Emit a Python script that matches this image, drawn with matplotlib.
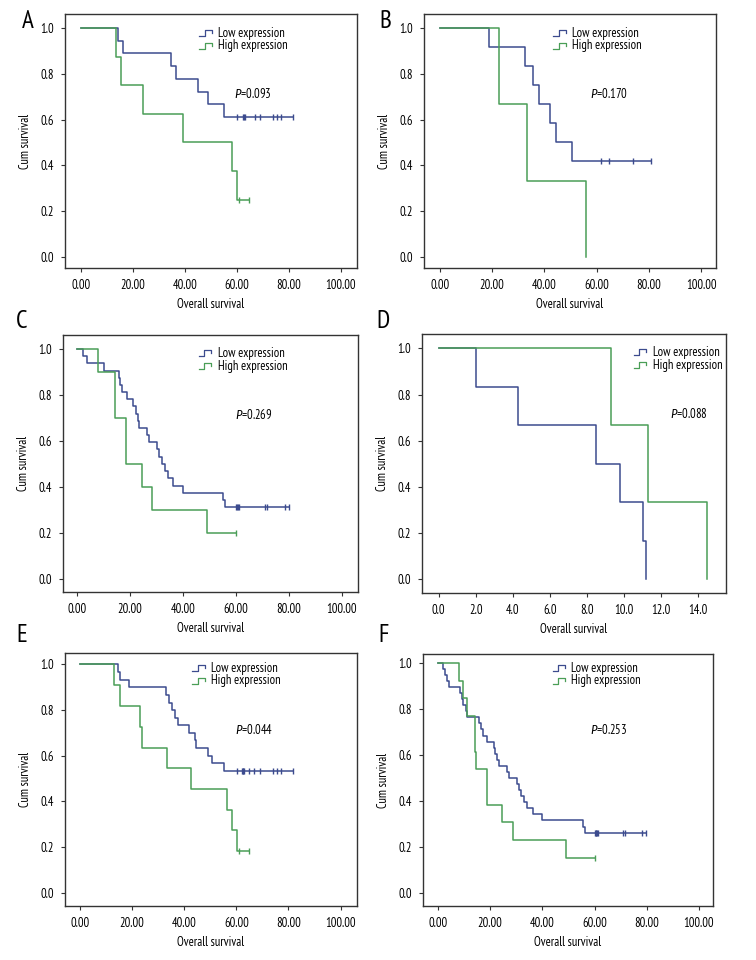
import matplotlib
matplotlib.use("Agg")
import matplotlib.pyplot as plt
import numpy as np

plt.rcParams["font.family"] = ["PT Sans Narrow", "DejaVu Sans"]
plt.rcParams["mathtext.fontset"] = "custom"
plt.rcParams["mathtext.it"] = "Fira Sans Condensed:italic"
plt.rcParams["mathtext.rm"] = "PT Sans Narrow"

BLUE = "#3c4b8e"
GREEN = "#4a9e57"

# ---- data (step times, survival after each step, censored times)
a_low_t = [14.4, 16.3, 34.5, 36.6, 45.1, 49.0, 55.1]
a_low_s = [0.944, 0.889, 0.833, 0.778, 0.722, 0.667, 0.611]
a_low_c = [60.0, 62.2, 62.8, 63.2, 67.0, 68.8, 73.7, 75.5, 76.9, 81.4]
a_high_t = [13.4, 15.4, 24.0, 39.4, 58.0, 60.0]
a_high_s = [0.875, 0.75, 0.625, 0.5, 0.375, 0.25]
a_high_c = [60.9, 64.7]

b_low_t = [18.9, 32.5, 35.7, 37.8, 42.0, 44.3, 50.7]
b_low_s = [0.917, 0.833, 0.75, 0.667, 0.583, 0.5, 0.417]
b_low_c = [61.8, 64.7, 73.9, 80.9]
b_high_t = [22.7, 33.4, 56.0]
b_high_s = [0.667, 0.333, 0.0]
b_high_c = []

c_low_t = [2.3, 3.8, 10.2, 15.9, 16.1, 16.8, 18.7, 21.2, 22.2, 22.8, 23.3,
           26.5, 27.3, 30.0, 31.0, 31.9, 33.1, 34.4, 36.4, 39.9, 55.0, 56.0]
c_low_s = [0.969, 0.938, 0.906, 0.875, 0.844, 0.813, 0.781, 0.75, 0.719, 0.688, 0.656,
           0.625, 0.594, 0.563, 0.531, 0.5, 0.469, 0.438, 0.406, 0.375, 0.344, 0.313]
c_low_c = [60.0, 60.4, 60.8, 61.2, 71.0, 71.6, 78.6, 80.2]
c_high_t = [8.0, 14.2, 14.4, 18.4, 18.6, 24.4, 28.4, 49.0]
c_high_s = [0.9, 0.8, 0.7, 0.6, 0.5, 0.4, 0.3, 0.2]
c_high_c = [60.0]

d_low_t = [2.0, 4.3, 8.5, 9.8, 11.0, 11.2]
d_low_s = [0.833, 0.667, 0.5, 0.333, 0.167, 0.0]
d_low_c = []
d_high_t = [9.3, 11.3, 14.5]
d_high_s = [0.667, 0.333, 0.0]
d_high_c = []

e_low_t = [14.7, 15.5, 19.0, 33.0, 34.1, 35.3, 36.4, 37.7, 42.0, 44.1, 44.6, 49.2, 50.6, 55.2]
e_low_s = [0.967, 0.933, 0.9, 0.867, 0.833, 0.8, 0.767, 0.733, 0.7, 0.667, 0.633, 0.6, 0.567, 0.533]
e_low_c = [60.1, 62.0, 62.4, 62.6, 63.0, 64.9, 66.8, 69.1, 73.9, 75.7, 77.3, 81.8]
e_high_t = [13.2, 15.3, 23.0, 23.9, 33.2, 42.5, 56.3, 58.3, 60.1]
e_high_s = [0.909, 0.818, 0.727, 0.636, 0.545, 0.455, 0.364, 0.273, 0.182]
e_high_c = [61.0, 64.7]

f_low_t = [1.8, 2.7, 3.3, 4.3, 8.4, 9.1, 9.7, 10.7, 11.2, 15.8, 16.5, 17.4, 18.7, 21.5,
           22.0, 22.7, 23.4, 26.6, 27.3, 30.1, 31.0, 31.8, 33.0, 34.0, 36.5, 39.7, 55.7, 56.2]
f_low_s = [0.974, 0.947, 0.921, 0.895, 0.868, 0.842, 0.816, 0.789, 0.763, 0.737, 0.711,
           0.684, 0.658, 0.632, 0.605, 0.579, 0.553, 0.526, 0.5, 0.474, 0.447, 0.421,
           0.395, 0.368, 0.342, 0.316, 0.289, 0.263]
f_low_c = [60.0, 60.4, 60.7, 61.0, 61.3, 70.9, 71.8, 78.3, 79.8]
f_high_t = [8.2, 9.4, 11.0, 14.1, 14.3, 14.5, 18.6, 18.8, 24.4, 28.6, 49.0]
f_high_s = [0.923, 0.846, 0.769, 0.692, 0.615, 0.538, 0.462, 0.385, 0.308, 0.231, 0.154]
f_high_c = [60.0]

p_values = ["0.093", "0.170", "0.269", "0.088", "0.044", "0.253"]
panel_letters = ["A", "B", "C", "D", "E", "F"]
x_ticks_main = [0, 20, 40, 60, 80, 100]
x_ticks_d = [0, 2, 4, 6, 8, 10, 12, 14]
y_ticks = [0.0, 0.2, 0.4, 0.6, 0.8, 1.0]

panels = [
    (a_low_t, a_low_s, a_low_c, a_high_t, a_high_s, a_high_c),
    (b_low_t, b_low_s, b_low_c, b_high_t, b_high_s, b_high_c),
    (c_low_t, c_low_s, c_low_c, c_high_t, c_high_s, c_high_c),
    (d_low_t, d_low_s, d_low_c, d_high_t, d_high_s, d_high_c),
    (e_low_t, e_low_s, e_low_c, e_high_t, e_high_s, e_high_c),
    (f_low_t, f_low_s, f_low_c, f_high_t, f_high_s, f_high_c),
]

# ---- layout in pixels (left, top, right, bottom) of the 756x960 canvas
W, H = 756, 960
boxes = [(65, 14, 357, 268), (424, 14, 716, 268),
         (63, 335, 358, 592), (422, 334, 726, 593),
         (65, 653, 357, 906), (423, 654, 713, 906)]
xlims = [(-6.15, 106.2), (-6.1, 105.7), (-5.4, 106.2), (-0.9, 15.5), (-5.75, 106.3), (-5.75, 105.4)]
ylims = [(-0.048, 1.061), (-0.048, 1.061), (-0.057, 1.061), (-0.059, 1.062), (-0.058, 1.05), (-0.055, 1.038)]
legend_pos = [(0.524, 0.925), (0.507, 0.925), (0.525, 0.929), (0.76, 0.929), (0.50, 0.94), (0.511, 0.943)]
p_pos = [(0.58, 0.685), (0.568, 0.685), (0.583, 0.689), (0.815, 0.691), (0.582, 0.696), (0.577, 0.698)]
letter_pos = [(28, 22), (385, 22), (22, 322), (383, 322), (22, 636), (384, 636)]

FS = 9


def draw_curve(ax, t, s, c, color):
    t = np.asarray(t)
    s = np.asarray(s)
    end = max(c) if len(c) else t[-1]
    xs = np.concatenate([[0.0], t, [end]])
    ys = np.concatenate([[1.0], s, [s[-1]]])
    ax.step(xs, ys, where="post", color=color, lw=1.1)
    if len(c):
        c = np.asarray(c)
        idx = np.searchsorted(t, c, side="right") - 1
        cy = np.where(idx >= 0, s[np.clip(idx, 0, None)], 1.0)
        ax.plot(c, cy, ls="none", marker="|", ms=4.5, mew=1.0, color=color)


def legend_glyph(ax, x, y, color):
    # small step-shaped key drawn left of the legend text
    gx = np.array([-0.064, -0.046, -0.046, -0.022, -0.022])
    gy = np.array([-0.012, -0.012, 0.012, 0.012, 0.0])
    ax.plot(x + gx, y + gy, color=color, lw=0.9, transform=ax.transAxes, clip_on=False)


fig = plt.figure(figsize=(W / 100, H / 100), dpi=100)

for i, (lt, ls, lc, ht, hs, hc) in enumerate(panels):
    l, t, r, b = boxes[i]
    ax = fig.add_axes([l / W, 1 - b / H, (r - l) / W, (b - t) / H])

    draw_curve(ax, lt, ls, lc, BLUE)
    draw_curve(ax, ht, hs, hc, GREEN)

    ax.set_xlim(*xlims[i])
    ax.set_ylim(*ylims[i])
    if i == 3:
        ax.set_xticks(x_ticks_d)
        ax.set_xticklabels([f"{v:.1f}" for v in x_ticks_d])
    else:
        ax.set_xticks(x_ticks_main)
        ax.set_xticklabels([f"{v:.2f}" for v in x_ticks_main])
    ax.set_yticks(y_ticks)
    ax.set_yticklabels([f"{v:.1f}" for v in y_ticks])
    ax.tick_params(labelsize=FS, length=3, width=0.8, color="#333333", pad=5)

    for sp in ax.spines.values():
        sp.set_color("#333333")
        sp.set_linewidth(1.0)

    ax.set_xlabel("Overall survival", fontsize=FS, labelpad=4)
    ax.set_ylabel("Cum survival", fontsize=FS, labelpad=6)

    lx, ly = legend_pos[i]
    legend_glyph(ax, lx, ly, BLUE)
    legend_glyph(ax, lx, ly - 0.05, GREEN)
    ax.text(lx, ly, "Low expression", transform=ax.transAxes, fontsize=FS, va="center")
    ax.text(lx, ly - 0.05, "High expression", transform=ax.transAxes, fontsize=FS, va="center")

    px, py = p_pos[i]
    ax.text(px, py, "$P$=" + p_values[i], transform=ax.transAxes, fontsize=FS, va="center")

    lx_pix, ly_pix = letter_pos[i]
    fig.text(lx_pix / W, 1 - ly_pix / H, panel_letters[i], fontsize=18,
             ha="center", va="center")

fig.savefig("out.png", dpi=100)
